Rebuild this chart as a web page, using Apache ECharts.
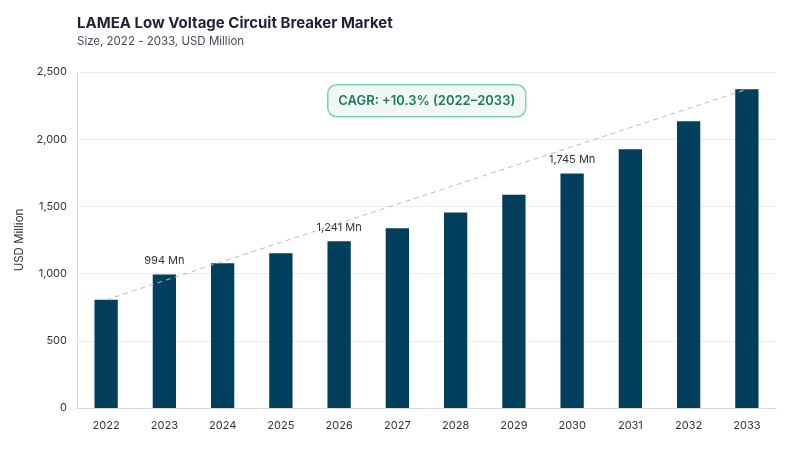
<!DOCTYPE html>
<html><head><meta charset="utf-8">
<script src="https://cdn.jsdelivr.net/npm/echarts@6/dist/echarts.min.js"></script>
<style>html,body{margin:0;padding:0;background:#fff}#c{width:800px;height:450px}</style>
</head><body><div id="c"></div>
<script>
const years = ['2022','2023','2024','2025','2026','2027','2028','2029','2030','2031','2032','2033'];
const values = [805, 994, 1077, 1152, 1241, 1338, 1454, 1587, 1745, 1925, 2133, 2371];
const labelledYears = ['2023','2026','2030'];
const yTicks = [0, 500, 1000, 1500, 2000, 2500];
const cagrText = 'CAGR: +10.3% (2022–2033)';

const trend = years.map((y, i) => (i === 0 || i === years.length - 1) ? values[i] : null);
const font = 'Inter, "DejaVu Sans", sans-serif';
const chart = echarts.init(document.getElementById('c'));
chart.setOption({
  animation: false,
  title: [{
    text: 'LAMEA Low Voltage Circuit Breaker Market',
    subtext: 'Size, 2022 - 2033, USD Million',
    left: 77, top: 16, padding: 0,
    textStyle: {fontFamily: font, fontSize: 15, fontWeight: 'bold', color: '#1e2235'},
    subtextStyle: {fontFamily: font, fontSize: 11.5, color: '#444a55'},
    itemGap: 5
  }],
  graphic: [{
    type: 'group', left: 327, top: 84,
    children: [{
      type: 'rect', shape: {x: 0, y: 0, width: 198, height: 32, r: 9},
      style: {fill: '#f1f7f6', stroke: '#79d3b6', lineWidth: 1.5}
    }, {
      type: 'text', style: {x: 99, y: 16, text: cagrText, align: 'center', verticalAlign: 'middle',
        fill: '#1b7a5c', font: '600 13px ' + font}
    }]
  }],
  grid: {left: 77, right: 24, top: 72, bottom: 42},
  xAxis: {
    type: 'category', data: years,
    axisLine: {lineStyle: {color: '#d8dadf'}},
    axisTick: {show: false},
    axisLabel: {fontFamily: font, fontSize: 11, color: '#333', margin: 12}
  },
  yAxis: {
    type: 'value', min: yTicks[0], max: yTicks[yTicks.length - 1], interval: 500,
    name: 'USD Million', nameLocation: 'middle', nameGap: 50,
    nameTextStyle: {fontFamily: font, fontSize: 11.5, color: '#333'},
    axisLine: {show: true, lineStyle: {color: '#d8dadf'}},
    axisTick: {show: false},
    splitLine: {lineStyle: {color: '#ececee'}},
    axisLabel: {fontFamily: font, fontSize: 11, color: '#333', margin: 10,
      formatter: v => v.toLocaleString('en-US')}
  },
  series: [{
    type: 'bar', data: values, barWidth: '40%',
    itemStyle: {color: '#023f5c'},
    label: {
      show: true, position: 'top', distance: 8,
      fontFamily: font, fontSize: 11, color: '#333',
      formatter: p => labelledYears.includes(p.name) ? p.value.toLocaleString('en-US') + ' Mn' : ''
    },
    z: 2
  }, {
    type: 'line', data: trend, connectNulls: true, symbol: 'none',
    lineStyle: {color: '#b8bcc2', width: 1, type: [5, 4]},
    z: 3, silent: true
  }]
});
</script></body></html>
